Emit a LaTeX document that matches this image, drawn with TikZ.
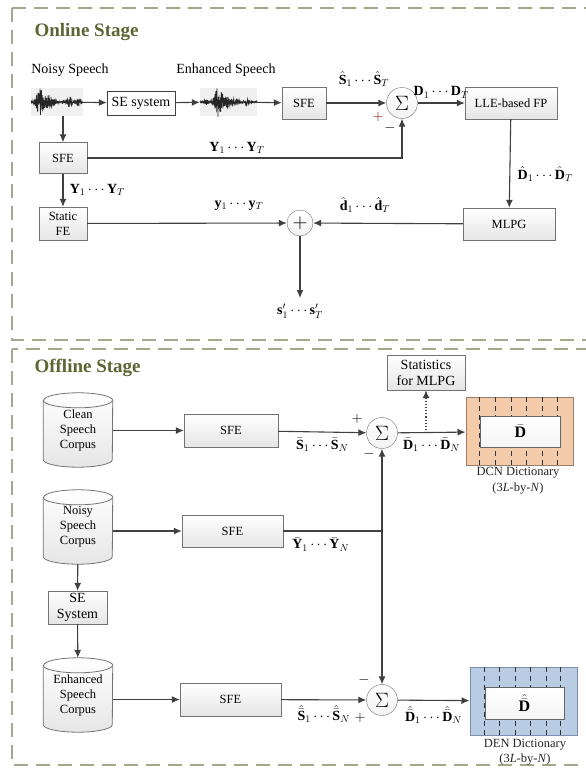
\documentclass[tikz,border=0pt]{standalone}
\usepackage{fontspec}
\setmainfont{Liberation Serif}
\usetikzlibrary{arrows.meta,backgrounds}

\definecolor{framegray}{HTML}{A6A88C}
\definecolor{stagegreen}{HTML}{5E6534}
\definecolor{linegray}{HTML}{404040}
\definecolor{dcnfill}{HTML}{F3CBAA}
\definecolor{dcnedge}{HTML}{9A7D68}
\definecolor{denfill}{HTML}{B8CCE4}
\definecolor{denedge}{HTML}{7890AE}

\begin{document}
\begin{tikzpicture}[x=1pt, y=-1pt,
    every node/.style={font=\fontsize{14}{16}\selectfont},
    stage/.style={font=\fontsize{19}{22}\selectfont\bfseries, text=stagegreen, anchor=west},
    frame/.style={draw=framegray, line width=1.6pt, dash pattern=on 14pt off 8pt},
    blk/.style={draw=gray!90!black, top color=white, bottom color=gray!20, align=center,
        inner sep=1pt, font=\fontsize{12.5}{14}\selectfont},
    corpus/.style={minimum width=69pt, minimum height=74pt, align=center, inner sep=1pt,
        font=\fontsize{12.5}{15}\selectfont},
    drum/.style={draw=gray!90!black, line width=0.8pt},
    sumnode/.style={circle, draw=gray!90!black, top color=white, bottom color=gray!10,
        minimum size=31pt, inner sep=0pt, font=\fontsize{22}{22}\selectfont},
    wave/.style={fill=gray!12, minimum height=28pt, inner sep=0pt},
    arr/.style={draw=linegray, line width=1.1pt, -{Latex[length=8pt,width=7pt]}},
    link/.style={draw=linegray, line width=1.1pt},
    dict/.style={line width=1pt, minimum width=107pt, minimum height=68pt},
    dictin/.style={draw=gray!80!black, top color=white, bottom color=gray!8,
        minimum width=80pt, minimum height=31pt, font=\fontsize{16}{16}\selectfont},
    note/.style={text=gray!30!black, font=\fontsize{12.5}{14}\selectfont},
    sign/.style={font=\fontsize{15}{15}\selectfont}]
\useasboundingbox (0,0) rectangle (586,771);

% stage frames
\draw[frame] (12,8) rectangle (600,340);
\draw[frame] (12,349) rectangle (600,765);
\node[stage] (online) at (31,32) {Online Stage};
\node[stage] (offline) at (31,368) {Offline Stage};

% ---- online stage ----
\node (noisylbl) at (70,70) {Noisy Speech};
\node (enhlbl) at (226,70) {Enhanced Speech};
\node[wave, minimum width=52pt] (nwav) at (57,102) {};
\node[wave, minimum width=57pt] (ewav) at (228.5,102) {};
\pgfmathsetseed{7}
\draw[black!85, line width=0.6pt] plot[domain=0:52, samples=320]
  ({31+\x}, {102+(13*exp(-((\x-9)/4)^2)+6*exp(-((\x-18)/5)^2)+5*exp(-((\x-39)/2.5)^2)+3*exp(-((\x-47)/2)^2)+0.8)*rand});
\draw[black!85, line width=0.6pt] plot[domain=0:57, samples=320]
  ({200+\x}, {102+(2.5*exp(-((\x-6)/1.5)^2)+13*exp(-((\x-18)/4)^2)+5*exp(-((\x-27)/8)^2)+3*exp(-((\x-47)/2)^2)+0.8)*rand});

\node[draw=linegray, fill=white, minimum width=68pt, minimum height=24pt, inner sep=1pt] (sesys) at (141,103) {SE system};
\node[blk, minimum width=44pt, minimum height=32pt] (sfe1) at (304,103) {SFE};
\node[sumnode] (sum1) at (402,103) {$\Sigma$};
\node[blk, minimum width=92pt, minimum height=32pt] (lle) at (511,103) {LLE-based FP};
\node[blk, minimum width=48pt, minimum height=31pt] (sfe2) at (63,158) {SFE};
\node[blk, minimum width=48pt, minimum height=33pt, font=\fontsize{12.5}{15}\selectfont] (static) at (63,223.5) {Static\\FE};
\node[sumnode, minimum size=26pt, font=\fontsize{20}{20}\selectfont] (plus) at (300,223) {$+$};
\node[blk, minimum width=92pt, minimum height=32pt] (mlpg) at (509,224) {MLPG};
\coordinate (out) at (300,298);

\draw[arr] (nwav) -- (sesys);
\draw[arr] (sesys) -- (ewav);
\draw[arr] (ewav) -- (sfe1);
\draw[arr] (sfe1) -- (sum1);
\draw[arr] (sum1) -- (lle) node[midway, above=1pt] {$\mathbf{D}_1\cdots\mathbf{D}_T$};
\draw[arr] (sfe2 |- nwav.south) -- (sfe2);
\draw[arr] (sfe2) -- (sum1 |- sfe2) -- (sum1);
\draw[arr] (sfe2) -- (static) node[midway, right=3pt] {$\mathbf{Y}_1\cdots\mathbf{Y}_T$};
\draw[arr] (static) -- (plus);
\draw[arr] (lle) -- (mlpg) node[pos=0.62, right=4pt] {$\hat{\mathbf{D}}_1\cdots\hat{\mathbf{D}}_T$};
\draw[arr] (mlpg) -- (plus);
\draw[arr] (plus) -- (out);

\node (shat) at (364,79) {$\hat{\mathbf{S}}_1\cdots\hat{\mathbf{S}}_T$};
\node (ylbl) at (237,148) {$\mathbf{Y}_1\cdots\mathbf{Y}_T$};
\node (ysmall) at (239,206) {$\mathbf{y}_1\cdots\mathbf{y}_T$};
\node (dhat) at (365,205) {$\hat{\mathbf{d}}_1\cdots\hat{\mathbf{d}}_T$};
\node (sout) at (300,311) {$\mathbf{s}'_1\cdots\mathbf{s}'_T$};
\node[sign, text=red!55!black] (p1) at (378,117) {$+$};
\node[sign] (m1) at (390,128) {$-$};

% ---- offline stage ----
\node[corpus] (cyl1) at (78,430) {Clean\\Speech\\Corpus};
\node[corpus] (cyl2) at (78,527) {Noisy\\Speech\\Corpus};
\node[blk, minimum width=59pt, minimum height=33pt, font=\fontsize{14}{16}\selectfont] (seb) at (77.5,607.5) {SE\\System};
\node[corpus] (cyl3) at (78,695) {Enhanced\\Speech\\Corpus};

% corpus drums behind the text
\begin{pgfonlayer}{background}
\foreach \c in {cyl1,cyl2,cyl3} {
  \draw[drum, top color=white, bottom color=gray!20]
    ([yshift=-7.5pt]\c.north west) -- ([yshift=7.5pt]\c.south west)
    arc[start angle=180, end angle=360, x radius=34.5pt, y radius=7.5pt]
    -- ([yshift=-7.5pt]\c.north east)
    arc[start angle=0, end angle=180, x radius=34.5pt, y radius=7.5pt] -- cycle;
  \draw[drum] ([yshift=-7.5pt]\c.north west)
    arc[start angle=180, end angle=360, x radius=34.5pt, y radius=7.5pt];
}
\end{pgfonlayer}

\node[blk, minimum width=94pt, minimum height=33pt] (sfea) at (231,430.5) {SFE};
\node[blk, minimum width=101pt, minimum height=32pt] (sfeb) at (232.5,531) {SFE};
\node[blk, minimum width=101pt, minimum height=33pt] (sfec) at (230.5,699.5) {SFE};
\node[sumnode] (sum2) at (382,433) {$\Sigma$};
\node[sumnode] (sum3) at (382,700) {$\Sigma$};
\node[blk, minimum width=78pt, minimum height=35pt, font=\fontsize{14}{16}\selectfont] (stats) at (426,372.5) {Statistics\\for MLPG};
\coordinate (junc) at (382,531);
\coordinate (tap) at (426,433);

% dictionaries
\node[dict, draw=dcnedge, fill=dcnfill] (dcn) at (519.5,431.5) {};
\foreach \dx in {14,29.6,45.2,60.8,76.4,92}
  \draw[dashed, gray!40!black, dash pattern=on 5pt off 4pt] ([xshift=\dx pt]dcn.north west) -- ([xshift=\dx pt]dcn.south west);
\node[dictin] (dcnin) at (520.5,431.5) {$\bar{\mathbf{D}}$};
\node[note] (dcnlbl) at (518,473) {DCN Dictionary};
\node[note] (dcnsize) at (518,489) {(3\textit{L}-by-\textit{N})};

\node[dict, draw=denedge, fill=denfill] (den) at (523.5,701) {};
\foreach \dx in {15,30,45.2,60.8,76.4,91}
  \draw[dashed, gray!40!black, dash pattern=on 5pt off 4pt] ([xshift=\dx pt]den.north west) -- ([xshift=\dx pt]den.south west);
\node[dictin, minimum width=79pt, minimum height=32pt] (denin) at (524.5,703) {$\hat{\bar{\mathbf{D}}}$};
\node[note] (denlbl) at (525,745) {DEN Dictionary};
\node[note] (densize) at (525,760) {(3\textit{L}-by-\textit{N})};

\draw[arr] (cyl1.east |- sfea) -- (sfea);
\draw[arr] (sfea) -- (sum2) node[midway, below=2pt] {$\bar{\mathbf{S}}_1\cdots\bar{\mathbf{S}}_N$};
\draw[arr] (sum2) -- (dcn) node[midway, below=2pt] {$\bar{\mathbf{D}}_1\cdots\bar{\mathbf{D}}_N$};
\draw[arr, dotted] (tap) -- (stats);
\draw[arr] (cyl2.east |- sfeb) -- (sfeb);
\draw[link] (sfeb) -- (junc) node[pos=0.38, below=3pt] {$\bar{\mathbf{Y}}_1\cdots\bar{\mathbf{Y}}_N$};
\draw[arr] (junc) -- (sum2);
\draw[arr] (junc) -- (sum3);
\draw[arr] (cyl2) -- (seb);
\draw[arr] (seb) -- (cyl3);
\draw[arr] (cyl3.east |- sfec) -- (sfec);
\draw[arr] (sfec) -- (sum3) node[midway, below=2pt] {$\hat{\bar{\mathbf{S}}}_1\cdots\hat{\bar{\mathbf{S}}}_N$};
\draw[arr] (sum3) -- (den) node[midway, below=2pt] {$\hat{\bar{\mathbf{D}}}_1\cdots\hat{\bar{\mathbf{D}}}_N$};

\node[sign] (p2) at (357,419) {$+$};
\node[sign] (m2) at (369,454) {$-$};
\node[sign] (p3) at (360,718) {$+$};
\node[sign] (m3) at (364,680) {$-$};
\end{tikzpicture}
\end{document}
